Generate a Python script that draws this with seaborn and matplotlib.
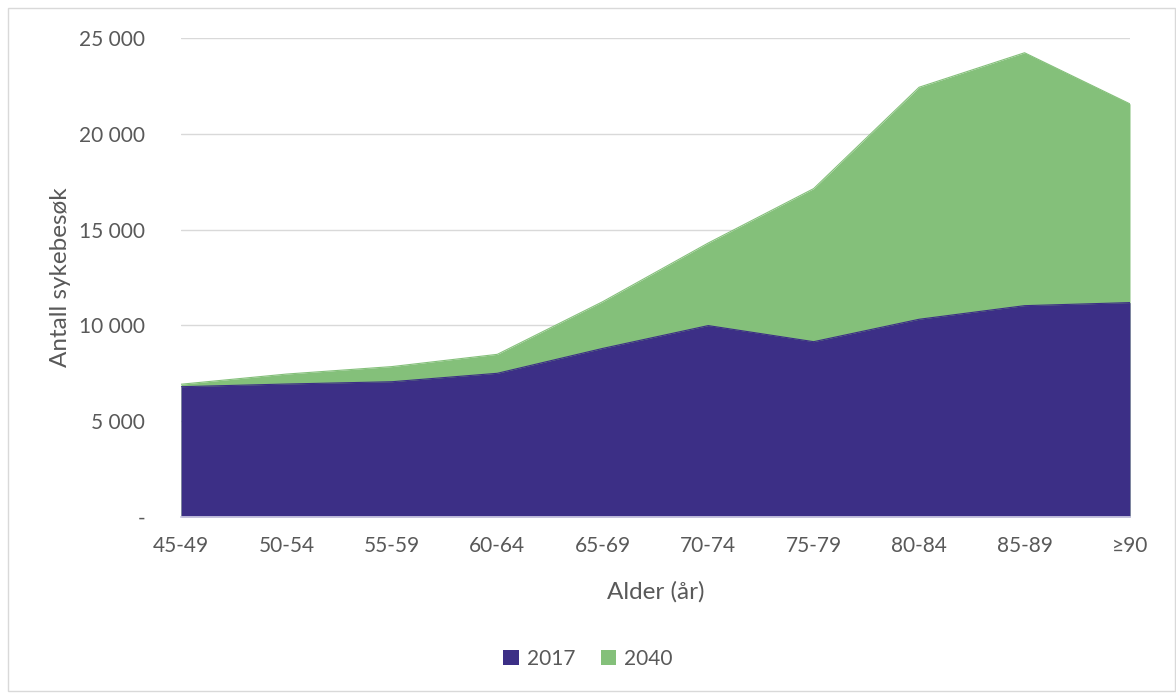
import numpy as np
import pandas as pd
import seaborn as sns
import matplotlib.pyplot as plt
from matplotlib.patches import Rectangle
from matplotlib.ticker import FuncFormatter

# values
age_groups = ['45-49', '50-54', '55-59', '60-64', '65-69', '70-74', '75-79', '80-84', '85-89', '≥90']
visits_2017 = [6800, 6940, 7060, 7500, 8800, 9990, 9150, 10320, 11030, 11190]
visits_2040 = [6930, 7460, 7850, 8490, 11240, 14300, 17140, 22430, 24230, 21560]

c2017 = '#3c2f86'
c2040 = '#84c07a'
txt = '#595959'

df = pd.DataFrame({'pos': range(len(age_groups)), 'age': age_groups,
                   '2017': visits_2017, '2040': visits_2040})

sns.set_theme(style='white')
plt.rcParams['font.family'] = ['Lato', 'DejaVu Sans']

fig = plt.figure(figsize=(11.76, 6.93), dpi=100)
ax = fig.add_axes([181/1176, 1-517/693, (1130-181)/1176, 479/693])

# 2040 behind, 2017 in front
for col, c in [('2040', c2040), ('2017', c2017)]:
    sns.lineplot(data=df, x='pos', y=col, color=c, lw=0.8, ax=ax, legend=False)
    ax.fill_between(df['pos'], df[col], color=c, lw=0, label=col)

ax.set_xlim(0, len(age_groups)-1)
ax.set_ylim(0, 25000)
ax.set_yticks(range(0, 25001, 5000))
ax.yaxis.set_major_formatter(FuncFormatter(lambda v, p: '-' if v == 0 else f'{int(v):,}'.replace(',', ' ')))
ax.set_xticks(df['pos'])
ax.set_xticklabels(age_groups)
ax.grid(axis='y', color='#d9d9d9', lw=1)
ax.set_axisbelow(True)
for s in ['top', 'right', 'left']:
    ax.spines[s].set_visible(False)
ax.spines['bottom'].set_color('#d0cde6')
ax.tick_params(axis='x', colors='#d9d9d9', length=6, width=1, labelcolor=txt, labelsize=15, pad=8)
ax.tick_params(axis='y', length=0, labelcolor=txt, labelsize=15, pad=26)

ax.set_xlabel('Alder (år)', fontsize=17.5, color=txt, labelpad=18)
ax.set_ylabel('Antall sykebesøk', fontsize=17.5, color=txt, labelpad=6)

h, l = ax.get_legend_handles_labels()
order = [l.index('2017'), l.index('2040')]
fig.legend([h[i] for i in order], [l[i] for i in order], loc='center', bbox_to_anchor=(0.5, 1-659/693),
           ncol=2, frameon=False, fontsize=15, labelcolor=txt, handlelength=0.75, handleheight=0.75,
           handletextpad=0.4, columnspacing=1.2)

fig.patches.append(Rectangle((8/1176, 2/693), 1-9/1176, 1-10/693, transform=fig.transFigure,
                             fill=False, ec='#d9d9d9', lw=1))

fig.savefig('out.png', dpi=100)
